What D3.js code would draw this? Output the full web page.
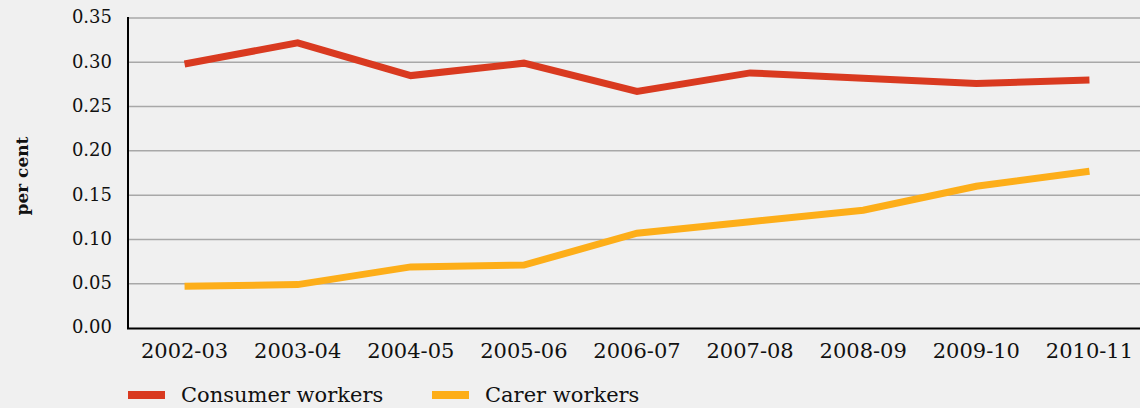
<!DOCTYPE html>
<html><head><meta charset="utf-8">
<script src="https://cdn.jsdelivr.net/npm/d3@7"></script>
<style>
html,body{margin:0;padding:0;background:#f0f0f0;}
text{font-family:"DejaVu Serif",serif;fill:#111;}
</style></head>
<body><svg id="c" width="1140" height="408"></svg>
<script>
const categories = ["2002-03","2003-04","2004-05","2005-06","2006-07","2007-08","2008-09","2009-10","2010-11"];
const consumerWorkers = [0.298,0.322,0.285,0.299,0.267,0.288,0.282,0.276,0.280];
const carerWorkers = [0.047,0.049,0.069,0.071,0.107,0.120,0.133,0.160,0.177];
const yTicks = [0,0.05,0.10,0.15,0.20,0.25,0.30,0.35];
const seriesNames = ["Consumer workers","Carer workers"];
const colors = ["#d93a20","#fdae19"];

const svg = d3.select("#c");
svg.append("rect").attr("width",1140).attr("height",408).attr("fill","#f0f0f0");
const x = d3.scalePoint().domain(categories).range([128,1146]).padding(0.5);
const y = d3.scaleLinear().domain([0,0.35]).range([328,18]);

// grid
svg.append("g").selectAll("line").data(yTicks.filter(d=>d>0)).join("line")
  .attr("x1",128).attr("x2",1140).attr("y1",d=>y(d)).attr("y2",d=>y(d))
  .attr("stroke","#a8a8a8").attr("stroke-width",1.5);

// y axis labels
svg.append("g").selectAll("text").data(yTicks).join("text")
  .attr("x",112).attr("y",d=>y(d)).attr("dy","0.3em").attr("text-anchor","end")
  .attr("font-size",18).text(d=>d3.format(".2f")(d));

// axes lines
svg.append("line").attr("x1",128).attr("x2",128).attr("y1",17).attr("y2",329).attr("stroke","#000").attr("stroke-width",2);
svg.append("line").attr("x1",127).attr("x2",1140).attr("y1",328.5).attr("y2",328.5).attr("stroke","#000").attr("stroke-width",2);

// x labels
svg.append("g").selectAll("text").data(categories).join("text")
  .attr("x",d=>x(d)).attr("y",358).attr("text-anchor","middle")
  .attr("font-size",21).text(d=>d);

// y title
svg.append("text").attr("transform","translate(28,176) rotate(-90)")
  .attr("text-anchor","middle").attr("font-size",17).attr("font-weight","bold").text("per cent");

// lines
const line = d3.line().x((d,i)=>x(categories[i])).y(d=>y(d));
[consumerWorkers,carerWorkers].forEach((s,k)=>{
  svg.append("path").attr("d",line(s)).attr("fill","none")
    .attr("stroke",colors[k]).attr("stroke-width",7).attr("stroke-linejoin","miter");
});

// legend
const legX = [128,432];
seriesNames.forEach((n,k)=>{
  svg.append("rect").attr("x",legX[k]).attr("y",391).attr("width",37).attr("height",8).attr("fill",colors[k]);
  svg.append("text").attr("x",legX[k]+53).attr("y",402).attr("font-size",21).text(n);
});
</script></body></html>
